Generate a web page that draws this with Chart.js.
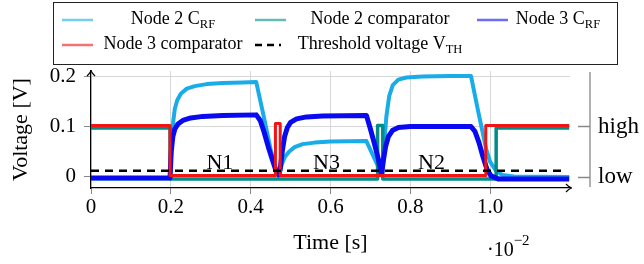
<!DOCTYPE html>
<html>
<head>
<meta charset="utf-8">
<script src="https://cdn.jsdelivr.net/npm/chart.js@4"></script>
<style>
  body { margin: 0; background: #fff; }
  canvas { display: block; }
</style>
</head>
<body>
<canvas id="voltage-chart" width="644" height="264"></canvas>
<script>
// time in units of 10^-2 s, voltage in V
const xTicks = [0, 0.2, 0.4, 0.6, 0.8, 1];
const yTicks = [0, 0.1, 0.2];
const levelTicks = [0, 0.1];
const levelNames = ['low', 'high'];

const node2CrfX = [0, 0.198, 0.202, 0.206, 0.21, 0.216, 0.225, 0.24, 0.26, 0.29, 0.33, 0.38, 0.414, 0.43, 0.45, 0.462, 0.468, 0.472, 0.478, 0.486, 0.496, 0.51, 0.53, 0.56, 0.6, 0.69, 0.705, 0.72, 0.728, 0.734, 0.74, 0.747, 0.756, 0.77, 0.79, 0.83, 0.9, 0.952, 0.97, 0.99, 1.0, 1.015, 1.03, 1.06, 1.198];
const node2CrfY = [-0.003, -0.003, 0.07, 0.11, 0.135, 0.152, 0.165, 0.175, 0.18, 0.184, 0.186, 0.187, 0.188, 0.13, 0.055, 0.015, 0.005, 0.006, 0.025, 0.04, 0.05, 0.059, 0.065, 0.068, 0.07, 0.071, 0.045, 0.02, 0.006, 0.06, 0.12, 0.16, 0.182, 0.193, 0.197, 0.199, 0.2, 0.2, 0.13, 0.055, 0.03, 0.012, 0.004, 0.001, 0.0];

const node2CompX = [0, 0.198, 0.198, 0.718, 0.718, 0.731, 0.731, 1.015, 1.015, 1.198];
const node2CompY = [0.097, 0.097, -0.004, -0.004, 0.102, 0.102, -0.004, -0.004, 0.097, 0.097];

const node3CrfX = [0, 0.198, 0.201, 0.205, 0.21, 0.218, 0.23, 0.25, 0.28, 0.33, 0.414, 0.424, 0.434, 0.444, 0.454, 0.462, 0.47, 0.474, 0.479, 0.485, 0.492, 0.5, 0.515, 0.54, 0.58, 0.69, 0.7, 0.71, 0.72, 0.728, 0.733, 0.738, 0.745, 0.755, 0.77, 0.8, 0.952, 0.962, 0.972, 0.982, 0.992, 1.002, 1.02, 1.198];
const node3CrfY = [-0.002, -0.002, 0.05, 0.08, 0.095, 0.105, 0.112, 0.117, 0.12, 0.122, 0.123, 0.112, 0.088, 0.06, 0.035, 0.016, 0.004, 0.015, 0.05, 0.08, 0.098, 0.108, 0.115, 0.119, 0.121, 0.122, 0.095, 0.066, 0.035, 0.006, 0.035, 0.06, 0.08, 0.092, 0.098, 0.1, 0.1, 0.09, 0.068, 0.04, 0.015, 0.002, -0.004, -0.004];

const node3CompX = [0, 0.198, 0.198, 0.462, 0.462, 0.474, 0.474, 0.989, 0.989, 1.198];
const node3CompY = [0.102, 0.102, 0.003, 0.003, 0.106, 0.106, 0.003, 0.003, 0.102, 0.102];

const thresholdX = [0, 1.19];
const thresholdY = [0.012, 0.012];

const regionNames = ['N1', 'N3', 'N2'];
const regionX = [0.323, 0.59, 0.853];
const regionY = 0.016;

const serif = '"Liberation Serif", "Times New Roman", serif';

function points(xs, ys) {
    return xs.map((x, i) => ({ x: x, y: ys[i] }));
}

// split 'Node 2 C_{RF}' into main text and subscript
function parts(label) {
    const m = label.match(/^(.*)_\{(.*)\}$/);
    return m ? [m[1], m[2]] : [label, ''];
}

function drawRich(ctx, text, sub, cx, cy, size, subSize) {
    ctx.font = size + 'px ' + serif;
    const w1 = ctx.measureText(text).width;
    ctx.font = subSize + 'px ' + serif;
    const w2 = sub ? ctx.measureText(sub).width : 0;
    let x = cx - (w1 + w2) / 2;
    ctx.textAlign = 'left';
    ctx.textBaseline = 'middle';
    ctx.font = size + 'px ' + serif;
    ctx.fillText(text, x, cy);
    if (sub) {
        ctx.font = subSize + 'px ' + serif;
        ctx.fillText(sub, x + w1, cy + 6);
    }
}

function arrowHead(ctx, x, y, dx, dy) {
    // open LaTeX-like arrow tip pointing along (dx, dy)
    const px = -dy, py = dx;
    ctx.beginPath();
    ctx.moveTo(x - dx * 6 + px * 4, y - dy * 6 + py * 4);
    ctx.quadraticCurveTo(x - dx * 2, y - dy * 2, x, y);
    ctx.quadraticCurveTo(x - dx * 2, y - dy * 2, x - dx * 6 - px * 4, y - dy * 6 - py * 4);
    ctx.stroke();
}

const decorations = {
    id: 'decorations',
    beforeDraw(chart) {
        const ctx = chart.ctx;
        ctx.save();
        ctx.fillStyle = '#fff';
        ctx.fillRect(0, 0, chart.width, chart.height);
        ctx.restore();
    },
    afterDraw(chart) {
        const ctx = chart.ctx;
        const area = chart.chartArea;
        const xs = chart.scales.x, ys = chart.scales.y;
        ctx.save();

        // axis arrows
        ctx.strokeStyle = '#000';
        ctx.lineWidth = 1.2;
        arrowHead(ctx, area.right + 2, area.bottom, 1, 0);
        arrowHead(ctx, area.left, area.top - 1, 0, -1);

        // secondary level axis on the right
        const lx = area.right + 20;
        ctx.strokeStyle = '#888';
        ctx.lineWidth = 1.3;
        ctx.beginPath();
        ctx.moveTo(lx, area.top + 1);
        ctx.lineTo(lx, area.bottom - 1);
        levelTicks.forEach(v => {
            const py = Math.round(ys.getPixelForValue(v)) + 0.5;
            ctx.moveTo(lx - 12, py);
            ctx.lineTo(lx, py);
        });
        ctx.stroke();

        // region labels
        ctx.fillStyle = '#000';
        ctx.font = '22px ' + serif;
        ctx.textAlign = 'center';
        ctx.textBaseline = 'alphabetic';
        regionNames.forEach((name, i) => {
            ctx.fillText(name, xs.getPixelForValue(regionX[i]), ys.getPixelForValue(regionY));
        });

        // axis multiplier
        ctx.textAlign = 'left';
        ctx.textBaseline = 'middle';
        ctx.font = '20px ' + serif;
        ctx.fillText('\u00b710', 487, 251);
        const w = ctx.measureText('\u00b710').width;
        ctx.font = '15px ' + serif;
        ctx.fillText('\u22122', 487 + w, 241);

        // legend
        ctx.strokeStyle = '#222';
        ctx.lineWidth = 1;
        ctx.strokeRect(53.5, 2.5, 564, 62);
        const cols = [{ lineX: 62, textX: 173 }, { lineX: 255, textX: 380 }, { lineX: 477, textX: 558 }];
        const rows = [20, 45];
        chart.data.datasets.forEach((ds, i) => {
            const c = cols[i % 3], ry = rows[Math.floor(i / 3)];
            ctx.save();
            ctx.strokeStyle = ds.borderColor;
            if (ds.borderDash) {
                ctx.lineWidth = 2.5;
                ctx.setLineDash([7, 5]);
                ctx.beginPath();
                ctx.moveTo(c.lineX, ry);
                ctx.lineTo(c.lineX + 26, ry);
                ctx.stroke();
            } else {
                ctx.globalAlpha = 0.6;
                ctx.lineWidth = 2.5;
                ctx.beginPath();
                ctx.moveTo(c.lineX, ry);
                ctx.lineTo(c.lineX + 31, ry);
                ctx.stroke();
            }
            ctx.restore();
            const p = parts(ds.label);
            ctx.fillStyle = '#000';
            drawRich(ctx, p[0], p[1], c.textX, ry - 1, 18, 12.5);
        });
        ctx.restore();
    }
};

const tickFont = { family: serif, size: 21 };
const titleFont = { family: serif, size: 22 };

const ctx = document.getElementById('voltage-chart').getContext('2d');
const voltageChart = new Chart(ctx, {
    type: 'line',
    data: {
        datasets: [{
            label: 'Node 2 C_{RF}',
            data: points(node2CrfX, node2CrfY),
            borderColor: 'rgb(25,172,232)',
            borderWidth: 4,
            order: 4
        }, {
            label: 'Node 2 comparator',
            data: points(node2CompX, node2CompY),
            borderColor: 'rgb(0,140,135)',
            borderWidth: 3.5,
            order: 3
        }, {
            label: 'Node 3 C_{RF}',
            data: points(node3CrfX, node3CrfY),
            borderColor: 'rgb(10,10,240)',
            borderWidth: 5,
            order: 2
        }, {
            label: 'Node 3 comparator',
            data: points(node3CompX, node3CompY),
            borderColor: 'rgb(240,20,20)',
            borderWidth: 3,
            order: 1
        }, {
            label: 'Threshold voltage V_{TH}',
            data: points(thresholdX, thresholdY),
            borderColor: '#000',
            borderWidth: 2.5,
            borderDash: [8, 6],
            order: 0
        }]
    },
    options: {
        responsive: false,
        animation: false,
        events: [],
        elements: { point: { radius: 0 }, line: { tension: 0, borderJoinStyle: 'round' } },
        layout: { padding: { left: 0, right: 0, top: 71, bottom: 0 } },
        plugins: { legend: { display: false }, tooltip: { enabled: false } },
        scales: {
            x: {
                type: 'linear',
                min: 0,
                max: 1.2,
                afterBuildTicks: s => { s.ticks = xTicks.map(v => ({ value: v })); },
                afterFit: s => { s.height = 76; },
                grid: { color: '#d6d6d6', tickColor: '#888', tickLength: 6 },
                border: { color: '#000', width: 1.2 },
                ticks: { font: tickFont, color: '#000', padding: 1, maxRotation: 0 },
                title: { display: true, text: 'Time [s]', font: titleFont, color: '#000', padding: { top: 0, bottom: 8 } }
            },
            y: {
                min: -0.022,
                max: 0.21,
                afterBuildTicks: s => { s.ticks = yTicks.map(v => ({ value: v })); },
                afterFit: s => { s.width = 91; },
                grid: { color: '#d6d6d6', tickColor: '#888', tickLength: 7 },
                border: { color: '#000', width: 1.2 },
                ticks: { font: tickFont, color: '#000', padding: 8 },
                title: { display: true, text: 'Voltage [V]', font: titleFont, color: '#000', padding: { top: 8, bottom: 0 } }
            },
            y2: {
                position: 'right',
                min: -0.022,
                max: 0.21,
                afterBuildTicks: s => { s.ticks = levelTicks.map(v => ({ value: v })); },
                afterFit: s => { s.width = 74; },
                grid: { display: false, drawTicks: false },
                border: { display: false },
                ticks: {
                    font: { family: serif, size: 23 },
                    color: '#000',
                    padding: 28,
                    callback: v => levelNames[levelTicks.indexOf(v)]
                }
            }
        }
    },
    plugins: [decorations]
});
</script>
</body>
</html>
